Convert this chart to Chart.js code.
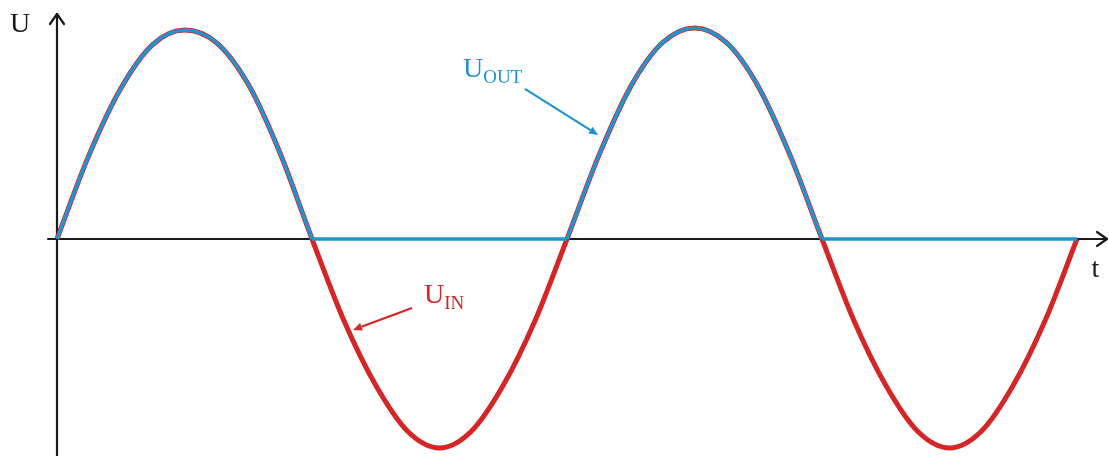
<!DOCTYPE html>
<html><head><meta charset="utf-8">
<script src="https://cdn.jsdelivr.net/npm/chart.js@4"></script>
<style>html,body{margin:0;padding:0;background:#fff}#wrap{width:1109px;height:456px}</style>
</head><body><div id="wrap"><canvas id="c" width="1109" height="456"></canvas></div>
<script>
// time in half-periods
const tValues = [0,0.125,0.25,0.375,0.5,0.625,0.75,0.875,1,
  1.125,1.25,1.375,1.5,1.625,1.75,1.875,2,
  2.125,2.25,2.375,2.5,2.625,2.75,2.875,3,
  3.125,3.25,3.375,3.5,3.625,3.75,3.875,4];
const uIn = [0,0.40,0.72,0.93,1.00,0.94,0.74,0.41,0,
  -0.39,-0.70,-0.92,-1.00,-0.92,-0.70,-0.39,0,
  0.40,0.73,0.94,1.01,0.94,0.73,0.40,0,
  -0.39,-0.70,-0.92,-1.00,-0.92,-0.70,-0.39,0];
const uOut = [0,0.40,0.72,0.93,1.00,0.94,0.74,0.41,0,
  0,0,0,0,0,0,0,0,
  0.40,0.73,0.94,1.01,0.94,0.73,0.40,0,
  0,0,0,0,0,0,0,0];
const axisNames = ['U','t'];
const outLabel = ['U','OUT'];
const inLabel = ['U','IN'];

const RED = '#d42626', BLUE = '#2193cf';
const toPts = arr => tValues.map((t,i)=>({x:t,y:arr[i]}));
// positive humps of U_OUT (curved) and its flat parts (straight)
const outHumps = uOut.map((v,i)=> (v>0 || uOut[i-1]>0 || uOut[i+1]>0) ? v : null);
const outFlat = uOut.map((v,i)=> (v===0 && (uOut[i-1]===0 || uOut[i+1]===0)) ? v : null);

const overlay = {
  id:'overlay',
  beforeDatasetsDraw(chart){
    const c = chart.ctx, xs = chart.scales.x, ys = chart.scales.y;
    const x0 = xs.getPixelForValue(0), y0 = ys.getPixelForValue(0);
    c.save();
    c.strokeStyle = '#1a1a1a'; c.lineWidth = 2.2; c.lineCap='round'; c.lineJoin='round';
    c.beginPath();
    c.moveTo(x0, chart.height); c.lineTo(x0, 14);
    c.moveTo(48, y0); c.lineTo(1107, y0);
    c.stroke();
    c.beginPath();
    c.moveTo(x0-7, 24); c.lineTo(x0, 14); c.lineTo(x0+7, 24);
    c.moveTo(1097, y0-7); c.lineTo(1107, y0); c.lineTo(1097, y0+7);
    c.stroke();
    c.restore();
  },
  afterDatasetsDraw(chart){
    const c = chart.ctx, xs = chart.scales.x, ys = chart.scales.y;
    const px = v => xs.getPixelForValue(v), py = v => ys.getPixelForValue(v);
    c.save();
    c.textBaseline = 'alphabetic';
    c.fillStyle = '#1a1a1a';
    c.font = '28px "Liberation Serif", serif';
    c.fillText(axisNames[0], px(-0.184), py(0.99));
    c.fillText(axisNames[1], px(4.057), py(-0.182));
    function sub(lbl, x, y, col){
      c.fillStyle = col;
      c.font = '28px "Liberation Serif", serif';
      c.fillText(lbl[0], x, y);
      const w = c.measureText(lbl[0]).width;
      c.font = '19px "Liberation Serif", serif';
      c.fillText(lbl[1], x + w, y + 6);
    }
    function arrow(x1,y1,x2,y2,col){
      c.strokeStyle = col; c.fillStyle = col; c.lineWidth = 2.2;
      const a = Math.atan2(y2-y1, x2-x1), L = 9, W = 4;
      const bx = x2 - L*Math.cos(a), by = y2 - L*Math.sin(a);
      c.beginPath(); c.moveTo(x1,y1); c.lineTo(bx,by); c.stroke();
      c.beginPath();
      c.moveTo(x2,y2);
      c.lineTo(bx - W*Math.sin(a), by + W*Math.cos(a));
      c.lineTo(bx + W*Math.sin(a), by - W*Math.cos(a));
      c.closePath(); c.fill();
    }
    sub(outLabel, px(1.592), py(0.775), BLUE);
    arrow(px(1.835), py(0.718), px(2.122), py(0.498), BLUE);
    sub(inLabel, px(1.439), py(-0.306), RED);
    arrow(px(1.392), py(-0.330), px(1.161), py(-0.435), RED);
    c.restore();
  }
};

new Chart(document.getElementById('c'), {
  type:'line',
  data:{datasets:[
    {label:'U_OUT', data:toPts(outHumps), borderColor:BLUE, borderWidth:3.5, pointRadius:0, cubicInterpolationMode:'monotone', spanGaps:false, order:0},
    {label:'U_OUT flat', data:toPts(outFlat), borderColor:BLUE, borderWidth:3.5, pointRadius:0, tension:0, spanGaps:false, order:0},
    {label:'U_IN', data:toPts(uIn), borderColor:RED, borderWidth:5, pointRadius:0, cubicInterpolationMode:'monotone', order:1}
  ]},
  options:{
    responsive:false, animation:false,
    layout:{padding:0},
    plugins:{legend:{display:false}, tooltip:{enabled:false}},
    scales:{
      x:{type:'linear', min:-0.2235, max:4.1255, display:false},
      y:{type:'linear', min:-1.0383, max:1.1435, display:false}
    }
  },
  plugins:[overlay]
});
</script></body></html>
